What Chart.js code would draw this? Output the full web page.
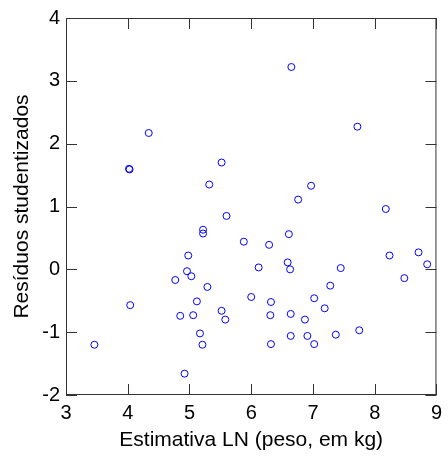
<!DOCTYPE html>
<html>
<head>
<meta charset="utf-8">
<script src="https://cdn.jsdelivr.net/npm/chart.js@4.4.1/dist/chart.umd.min.js"></script>
<style>
  html, body { margin: 0; padding: 0; background: #fff; }
  #wrap { width: 448px; height: 456px; }
</style>
</head>
<body>
<div id="wrap"><canvas id="residuosChart" width="448" height="456"></canvas></div>
<script>
// Estimativa LN (peso, em kg) vs residuos studentizados
const estimativaLN = [
  3.46, 4.02, 4.03, 4.04, 4.34, 4.77, 4.85, 4.92, 4.96, 4.98,
  5.03, 5.06, 5.12, 5.17, 5.21, 5.22, 5.22, 5.29, 5.32, 5.52,
  5.52, 5.58, 5.60, 5.88, 6.00, 6.12, 6.29, 6.31, 6.32, 6.32,
  6.59, 6.61, 6.63, 6.64, 6.64, 6.65, 6.76, 6.87, 6.91, 6.97,
  7.02, 7.02, 7.19, 7.28, 7.37, 7.45, 7.72, 7.75, 8.18, 8.24,
  8.48, 8.71, 8.85
];
const residuos = [
  -1.20, 1.60, 1.59, -0.57, 2.17, -0.17, -0.74, -1.66, -0.03, 0.22,
  -0.11, -0.73, -0.51, -1.02, -1.20, 0.63, 0.57, -0.28, 1.35, 1.70,
  -0.66, -0.80, 0.85, 0.44, -0.44, 0.03, 0.39, -0.73, -0.52, -1.19,
  0.11, 0.56, 0.00, -0.71, -1.06, 3.22, 1.11, -0.80, -1.06, 1.33,
  -0.46, -1.19, -0.62, -0.26, -1.04, 0.02, 2.27, -0.97, 0.96, 0.22,
  -0.14, 0.27, 0.08
];
const xTicks = [3, 4, 5, 6, 7, 8, 9];
const yTicks = [-2, -1, 0, 1, 2, 3, 4];

const points = estimativaLN.map((x, i) => ({ x: x, y: residuos[i] }));

// box around the plot with inward ticks on all four sides
const framePlugin = {
  id: 'frame',
  beforeDatasetsDraw(chart) {
    const { ctx, chartArea: a, scales } = chart;
    const len = 11;
    ctx.save();
    ctx.strokeStyle = '#333';
    ctx.lineWidth = 1;
    ctx.beginPath();
    ctx.rect(a.left + 0.5, a.top + 0.5, a.right - a.left - 1, a.bottom - a.top - 1);
    xTicks.forEach(v => {
      const px = Math.round(scales.x.getPixelForValue(v)) + 0.5;
      ctx.moveTo(px, a.bottom); ctx.lineTo(px, a.bottom - len);
      ctx.moveTo(px, a.top); ctx.lineTo(px, a.top + len);
    });
    yTicks.forEach(v => {
      const py = Math.round(scales.y.getPixelForValue(v)) + 0.5;
      ctx.moveTo(a.left, py); ctx.lineTo(a.left + len, py);
      ctx.moveTo(a.right, py); ctx.lineTo(a.right - len, py);
    });
    ctx.stroke();
    ctx.restore();
  }
};

const font = { family: '"Liberation Sans", Arial, sans-serif', size: 20 };
const titleFont = { family: '"Liberation Sans", Arial, sans-serif', size: 21 };

new Chart(document.getElementById('residuosChart').getContext('2d'), {
  type: 'scatter',
  data: {
    datasets: [{
      data: points,
      pointStyle: 'circle',
      pointRadius: 3.5,
      pointBorderWidth: 1,
      pointBorderColor: '#0000ff',
      pointBackgroundColor: 'rgba(0,0,0,0)'
    }]
  },
  options: {
    responsive: false,
    animation: false,
    layout: { padding: { top: 18, right: 7, left: 0, bottom: 0 } },
    plugins: {
      legend: { display: false },
      tooltip: { enabled: false }
    },
    scales: {
      x: {
        type: 'linear',
        min: 3,
        max: 9,
        afterFit: s => { s.height = 61; },
        afterBuildTicks: s => { s.ticks = xTicks.map(v => ({ value: v })); },
        grid: { display: false, drawTicks: false },
        border: { display: false },
        ticks: { font: font, color: '#000', padding: 6, maxRotation: 0 },
        title: { display: true, text: 'Estimativa LN (peso, em kg)', font: titleFont, color: '#000', padding: { top: 0, bottom: 3 } }
      },
      y: {
        type: 'linear',
        min: -2,
        max: 4,
        afterFit: s => { s.width = 66; },
        afterBuildTicks: s => { s.ticks = yTicks.map(v => ({ value: v })); },
        grid: { display: false, drawTicks: false },
        border: { display: false },
        ticks: { font: font, color: '#000', padding: 6 },
        title: { display: true, text: 'Resíduos studentizados', font: titleFont, color: '#000', padding: { top: 10, bottom: 0 } }
      }
    }
  },
  plugins: [framePlugin]
});
</script>
</body>
</html>
